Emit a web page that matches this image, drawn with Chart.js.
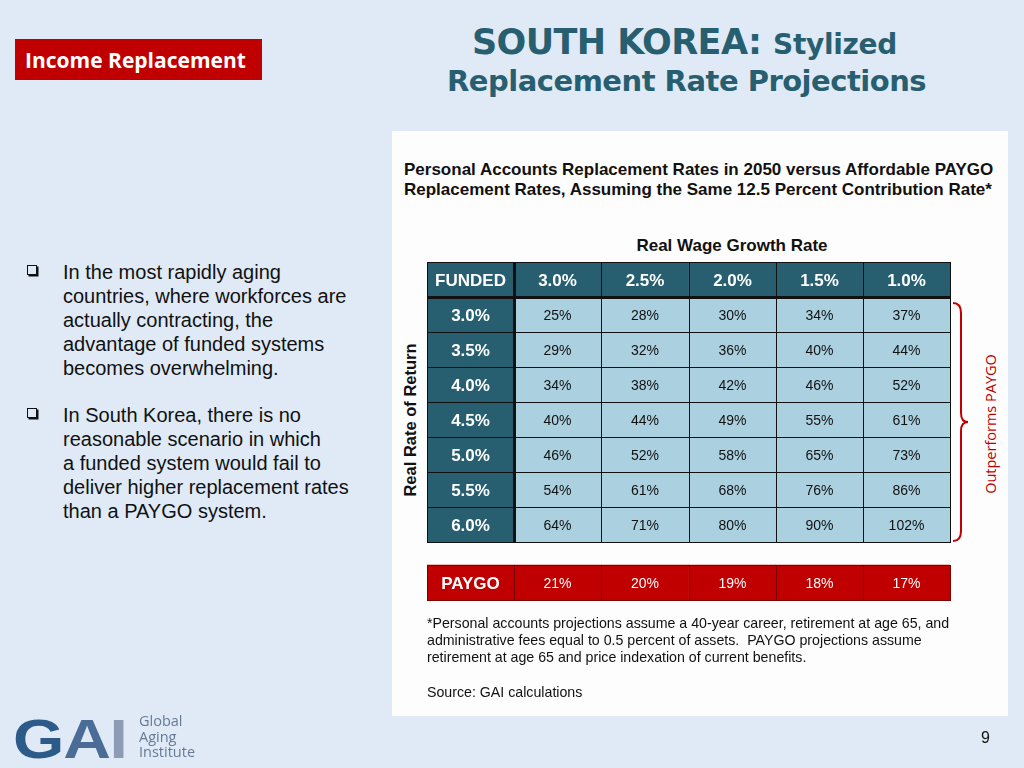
<!DOCTYPE html>
<html>
<head>
<meta charset="utf-8">
<title>South Korea: Stylized Replacement Rate Projections</title>
<script src="https://cdn.jsdelivr.net/npm/chart.js@4.4.0/dist/chart.umd.min.js"></script>
<style>
  html, body { margin: 0; padding: 0; }
  body { width: 1024px; height: 768px; background: #dfeaf6; position: relative; overflow: hidden; font-family: "Liberation Sans", Arial, sans-serif; color: #111; }
  .abs { position: absolute; white-space: nowrap; }
  #tag { left: 15px; top: 39px; width: 247px; height: 41px; background: #c00000; color: #fff; font-family: "Open Sans", sans-serif; font-weight: 700; font-size: 21px; line-height: 42px; text-indent: 10px; }
  .ttl { font-family: "DejaVu Sans", Verdana, sans-serif; font-weight: 700; color: #285f70; }
  #t1 { left: 472px; top: 22px; font-size: 35px; letter-spacing: -0.6px; }
  #t1 span { font-size: 28px; letter-spacing: -0.3px; }
  #t2 { left: 447px; top: 64px; font-size: 29px; letter-spacing: -0.5px; }
  #panel { left: 392px; top: 131px; width: 616px; height: 585px; background: #fdfdfd; }
  #sub { left: 404px; top: 160px; font-weight: 700; font-size: 17px; line-height: 20px; }
  #wage { left: 600px; top: 236px; width: 264px; text-align: center; font-weight: 700; font-size: 17px; }
  #rrr { left: 410px; top: 420px; font-weight: 700; font-size: 16.5px; transform: translate(-50%, -50%) rotate(-90deg); }
  #outp { left: 990px; top: 424px; font-family: "Open Sans", sans-serif; font-size: 14.5px; color: #c00000; transform: translate(-50%, -50%) rotate(-90deg); }
  #tableBox { left: 427px; top: 262px; width: 524px; height: 339px; }
  #foot { left: 427px; top: 615px; font-size: 14.2px; line-height: 17px; }
  #src { left: 427px; top: 684px; font-size: 14.2px; }
  .bul { left: 63px; font-size: 20px; line-height: 24px; color: #111; }
  .box { position: absolute; left: 27px; width: 8px; height: 8px; border: 1.6px solid #111; box-shadow: 1.5px 1.5px 0 #111; }
  #logo { left: 13px; top: 707px; font-family: "Liberation Sans", Arial, sans-serif; font-weight: 700; font-size: 55px; letter-spacing: -1px; line-height: 64px; transform: scaleX(1.2); transform-origin: 0 0; }
  #logo .g { color: #2c5b89; }
  #logo .a { color: #4a6c96; }
  #logo .i { color: #8d9bb5; }
  #gname { left: 139px; top: 713px; font-family: "Open Sans", sans-serif; font-size: 14.5px; line-height: 15.5px; color: #667a95; }
  #pg { left: 981px; top: 729px; font-size: 16px; }
</style>
</head>
<body>
<div class="abs" id="tag">Income Replacement</div>
<div class="abs ttl" id="t1">SOUTH KOREA: <span>Stylized</span></div>
<div class="abs ttl" id="t2">Replacement Rate Projections</div>

<span class="box" style="top:265px"></span>
<div class="abs bul" style="top:260px">In the most rapidly aging<br>countries, where workforces are<br>actually contracting, the<br>advantage of funded systems<br>becomes overwhelming.</div>
<span class="box" style="top:408px"></span>
<div class="abs bul" style="top:403px">In South Korea, there is no<br>reasonable scenario in which<br>a funded system would fail to<br>deliver higher replacement rates<br>than a PAYGO system.</div>

<div class="abs" id="panel"></div>
<div class="abs" id="sub">Personal Accounts Replacement Rates in 2050 versus Affordable PAYGO<br>Replacement Rates, Assuming the Same 12.5 Percent Contribution Rate*</div>
<div class="abs" id="wage">Real Wage Growth Rate</div>
<div class="abs" id="rrr">Real Rate of Return</div>
<div class="abs" id="outp">Outperforms PAYGO</div>

<div class="abs" id="tableBox"><canvas id="rrChart"></canvas></div>

<svg class="abs" style="left:0;top:0" width="1024" height="768">
  <path d="M953,303 Q961,303 961,313 L961,413 Q961,422 968,422 Q961,422 961,431 L961,531 Q961,541 953,541" fill="none" stroke="#c00000" stroke-width="2"/>
</svg>

<div class="abs" id="foot">*Personal accounts projections assume a 40-year career, retirement at age 65, and<br>administrative fees equal to 0.5 percent of assets.&nbsp; PAYGO projections assume<br>retirement at age 65 and price indexation of current benefits.</div>
<div class="abs" id="src">Source: GAI calculations</div>

<div class="abs" id="logo"><span class="g">G</span><span class="a">A</span><span class="i">I</span></div>
<div class="abs" id="gname">Global<br>Aging<br>Institute</div>
<div class="abs" id="pg">9</div>

<script>
// ===== data =====
const wageGrowth = ['3.0%', '2.5%', '2.0%', '1.5%', '1.0%'];
const returnRates = ['3.0%', '3.5%', '4.0%', '4.5%', '5.0%', '5.5%', '6.0%'];

// funded replacement rates, one row per real rate of return
const fundedAt30 = [25, 28, 30, 34, 37];
const fundedAt35 = [29, 32, 36, 40, 44];
const fundedAt40 = [34, 38, 42, 46, 52];
const fundedAt45 = [40, 44, 49, 55, 61];
const fundedAt50 = [46, 52, 58, 65, 73];
const fundedAt55 = [54, 61, 68, 76, 86];
const fundedAt60 = [64, 71, 80, 90, 102];
const fundedRows = [fundedAt30, fundedAt35, fundedAt40, fundedAt45, fundedAt50, fundedAt55, fundedAt60];

const paygoRates = [21, 20, 19, 18, 17];

// ===== colours =====
const dark = '#285f70';
const light = '#abd0e0';
const red = '#c00000';

const columns = ['FUNDED', ...wageGrowth];
const paygoTop = 8.65;

// each table row is one dataset of floating bars, one bar per column
function rowDataset(top, colors, texts, opts) {
  return Object.assign({
    data: columns.map(() => [top, top + 1]),
    backgroundColor: colors,
    cellText: texts,
    lineColor: '#111',
    grouped: false,
    barPercentage: 1,
    categoryPercentage: 1,
    borderWidth: 0
  }, opts || {});
}

const datasets = [];
datasets.push(rowDataset(0, columns.map(() => dark), columns, { headRow: true }));
fundedRows.forEach((row, r) => {
  datasets.push(rowDataset(r + 1,
    [dark, ...row.map(() => light)],
    [returnRates[r], ...row.map(v => v + '%')]));
});
datasets.push(rowDataset(paygoTop, columns.map(() => red),
  ['PAYGO', ...paygoRates.map(v => v + '%')],
  { lineColor: '#7a0000', paygoRow: true }));

// borders + text on the cells
const cellPlugin = {
  id: 'cellPlugin',
  afterDatasetsDraw(chart) {
    const ctx = chart.ctx;
    ctx.save();
    chart.data.datasets.forEach((ds, di) => {
      const meta = chart.getDatasetMeta(di);
      meta.data.forEach((bar, i) => {
        const p = bar.getProps(['x', 'y', 'base', 'width'], true);
        const left = Math.round(p.x - p.width / 2);
        const right = Math.round(p.x + p.width / 2);
        const top = Math.round(Math.min(p.y, p.base));
        const bottom = Math.round(Math.max(p.y, p.base));
        ctx.strokeStyle = ds.lineColor;
        ctx.lineWidth = 1;
        ctx.strokeRect(left + 0.5, top + 0.5, right - left, bottom - top);

        const isHead = ds.headRow || i === 0;
        ctx.fillStyle = (isHead || ds.paygoRow) ? '#fff' : '#111';
        ctx.font = isHead ? 'bold 17px "Liberation Sans", Arial' : '14px "Liberation Sans", Arial';
        ctx.textAlign = 'center';
        ctx.textBaseline = 'middle';
        ctx.fillText(ds.cellText[i], (left + right) / 2, (top + bottom) / 2 + 1.5);
      });
    });

    // heavy rules after the FUNDED column and under the header row
    const xs = chart.scales.x, ys = chart.scales.y;
    const xb = Math.round((xs.getPixelForValue(0) + xs.getPixelForValue(1)) / 2);
    const yb = Math.round(ys.getPixelForValue(1));
    ctx.fillStyle = '#111';
    ctx.fillRect(xb - 1, Math.round(ys.getPixelForValue(0)), 3, Math.round(ys.getPixelForValue(8)) - Math.round(ys.getPixelForValue(0)) + 1);
    ctx.fillRect(chart.chartArea.left, yb - 1, chart.chartArea.right - chart.chartArea.left + 1, 3);
    ctx.restore();
  }
};

const tableChart = new Chart(document.getElementById('rrChart'), {
  type: 'bar',
  data: { labels: columns, datasets: datasets },
  options: {
    responsive: true,
    maintainAspectRatio: false,
    animation: false,
    layout: { padding: { right: 1, bottom: 1 } },
    scales: {
      x: { display: false },
      y: { display: false, min: 0, max: paygoTop + 1, reverse: true }
    },
    plugins: {
      legend: { display: false },
      tooltip: { enabled: false }
    }
  },
  plugins: [cellPlugin]
});
</script>
</body>
</html>
